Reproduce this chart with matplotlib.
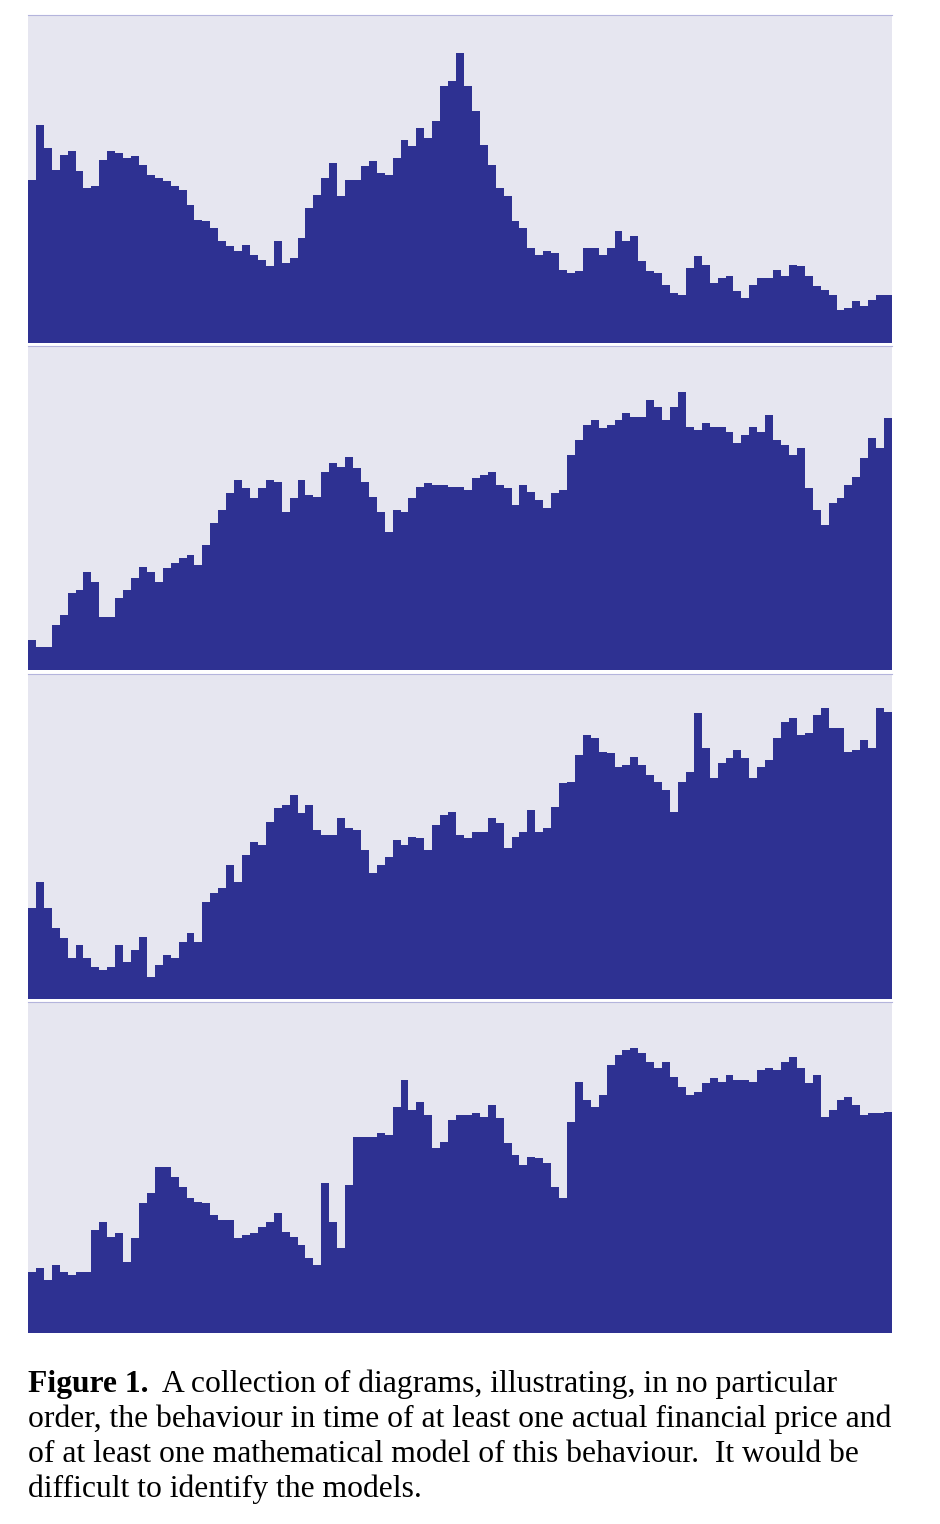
import numpy as np
import matplotlib
matplotlib.use("Agg")
import matplotlib.pyplot as plt

# heights of the filled profile (one sample per ~8 px)
series1 = [163, 218, 195, 173, 188, 192, 172, 155, 157, 183,
           192, 190, 185, 187, 178, 168, 165, 162, 157, 153,
           138, 123, 122, 115, 102, 97, 92, 98, 88, 83,
           77, 102, 80, 85, 105, 135, 148, 165, 180, 147,
           163, 163, 177, 182, 170, 168, 185, 203, 197, 215,
           205, 222, 257, 262, 290,
           257, 232, 198, 178, 155, 147, 122, 115, 95, 88,
           92, 90, 73, 70, 72, 95, 95, 88, 95, 112,
           102, 107, 82, 72, 70, 58, 50, 48, 75, 87,
           78, 60, 65, 67, 52, 45, 58, 65, 65, 73,
           67, 78, 77, 67, 57, 53, 48, 33, 35, 42,
           37, 43, 48, 48]

series2 = [30, 23, 23, 45, 55, 77, 80, 98, 88, 53,
           53, 72, 80, 92, 103, 98, 88, 102, 107, 112,
           115, 105, 125, 147, 160, 177, 190, 182, 172, 182,
           190, 188, 158, 172, 190, 175, 173, 198, 207, 203,
           213, 202, 188, 173, 158, 138, 160, 158, 172, 183,
           187, 185, 185, 183, 183,
           180, 192, 195, 198, 185, 182, 165, 185, 178, 170,
           162, 177, 180, 215, 230, 245, 250, 242, 245, 250,
           257, 253, 253, 270, 263, 250, 263, 278, 243, 240,
           247, 243, 243, 238, 227, 235, 243, 238, 255, 230,
           225, 215, 222, 182, 160, 145, 167, 172, 185, 193,
           212, 232, 222, 252]

series3 = [91, 117, 91, 71, 61, 41, 54, 41, 32, 29,
           32, 54, 37, 49, 62, 22, 34, 44, 41, 57,
           66, 57, 97, 106, 111, 134, 117, 144, 157, 154,
           177, 191, 194, 204, 186, 194, 169, 164, 164, 181,
           171, 169, 149, 126, 134, 142, 159, 154, 162, 161,
           149, 174, 184, 187, 164,
           161, 167, 167, 181, 176, 151, 162, 167, 189, 167,
           171, 192, 216, 217, 244, 264, 261, 247, 246, 232,
           234, 242, 234, 224, 217, 209, 187, 217, 227, 286,
           251, 221, 236, 241, 249, 241, 221, 232, 239, 261,
           277, 281, 264, 266, 284, 291, 271, 271, 247, 249,
           259, 251, 291, 287]

series4 = [61, 65, 53, 68, 61, 58, 61, 61, 103, 111,
           96, 100, 71, 95, 130, 140, 166, 166, 156, 146,
           135, 131, 130, 118, 113, 113, 95, 98, 100, 106,
           111, 120, 101, 96, 88, 75, 68, 150, 111, 85,
           148, 196, 196, 196, 200, 198, 226, 253, 223, 231,
           218, 185, 191, 213, 218,
           218, 220, 216, 228, 215, 190, 178, 168, 176, 175,
           170, 146, 135, 211, 251, 233, 226, 238, 268, 278,
           283, 285, 280, 271, 265, 271, 256, 246, 238, 241,
           250, 255, 251, 258, 253, 253, 251, 263, 265, 263,
           271, 276, 265, 250, 258, 216, 223, 233, 236, 228,
           218, 220, 220, 221]

all_series = [series1, series2, series3, series4]
panel_tops = [15, 346, 674, 1002]      # pixel rows of each panel
panel_bottoms = [343, 670, 999, 1333]

caption_lines = [
    "A collection of diagrams, illustrating, in no particular",
    "order, the behaviour in time of at least one actual financial price and",
    "of at least one mathematical model of this behaviour.  It would be",
    "difficult to identify the models.",
]

W, H = 940, 1524
fill_col = "#2E3192"
bg_col = "#E6E6F0"

fig = plt.figure(figsize=(W / 100, H / 100), dpi=100)
fig.patch.set_facecolor("white")

left, right = 28, 892
for vals, top, bot in zip(all_series, panel_tops, panel_bottoms):
    ax = fig.add_axes([left / W, 1 - bot / H, (right - left) / W, (bot - top) / H])
    ax.set_facecolor(bg_col)
    edges = np.arange(len(vals) + 1)
    ax.stairs(vals, edges, baseline=0, fill=True, color=fill_col, linewidth=0)
    ax.set_xlim(0, len(vals))
    ax.set_ylim(0, bot - top)
    ax.set_xticks([])
    ax.set_yticks([])
    for s in ax.spines.values():
        s.set_visible(False)
    ax.spines["top"].set_visible(True)
    ax.spines["top"].set_color("#B4B4DC")
    ax.spines["top"].set_linewidth(0.8)

# caption
fs = 22.8
baselines = [1392, 1427, 1462, 1497]
serif = ["Liberation Serif", "DejaVu Serif"]
t = fig.text(28 / W, 1 - baselines[0] / H, "Figure 1.", fontsize=fs,
             fontweight="bold", family=serif, va="baseline", ha="left")
fig.canvas.draw()
bb = t.get_window_extent(renderer=fig.canvas.get_renderer())
fig.text((bb.x1 + 14) / W, 1 - baselines[0] / H, caption_lines[0], fontsize=fs,
         family=serif, va="baseline", ha="left")
for line, yb in zip(caption_lines[1:], baselines[1:]):
    fig.text(28 / W, 1 - yb / H, line, fontsize=fs, family=serif,
             va="baseline", ha="left")

fig.savefig("out.png", dpi=100, facecolor="white")
